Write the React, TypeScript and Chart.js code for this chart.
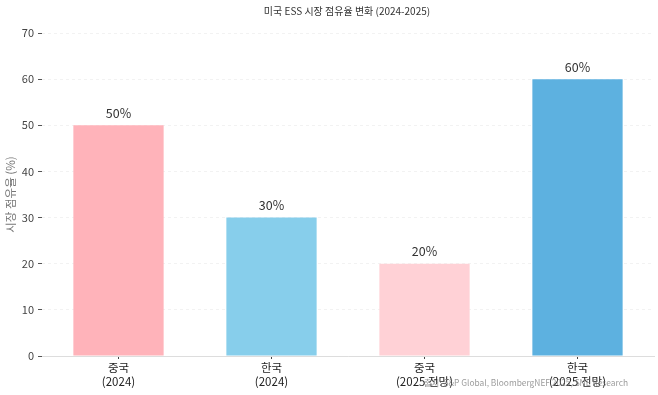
import React, { useEffect, useRef } from "react";
import { Chart, registerables } from "chart.js";

Chart.register(...registerables);

const categories: string[][] = [["중국", "(2024)"], ["한국", "(2024)"], ["중국", "(2025 전망)"], ["한국", "(2025 전망)"]];
const shares: number[] = [50, 30, 20, 60];
const barColors: string[] = ["#ffb3ba", "#87ceeb", "#ffd1d6", "#5db1e0"];
const yTicks: number[] = [0, 10, 20, 30, 40, 50, 60, 70];
const titleText = "미국 ESS 시장 점유율 변화 (2024-2025)";
const yTitle = "시장 점유율 (%)";
const sourceText = "출처: S&P Global, BloombergNEF 2025, SNE Research";

const FONT = "'Noto Sans CJK KR', 'Noto Sans', sans-serif";

const overlayPlugin = {
  id: "overlay",
  afterDatasetsDraw(chart: any) {
    const ctx = chart.ctx;
    const meta = chart.getDatasetMeta(0);
    ctx.save();
    ctx.fillStyle = "#333";
    ctx.font = `12.5px ${FONT}`;
    ctx.textAlign = "center";
    ctx.textBaseline = "middle";
    meta.data.forEach((bar: any, i: number) => {
      ctx.fillText(`${shares[i]}%`, bar.x, bar.y - 12);
    });
    ctx.restore();
  },
  afterDraw(chart: any) {
    const ctx = chart.ctx;
    ctx.save();
    ctx.fillStyle = "#333";
    ctx.font = `10px ${FONT}`;
    ctx.textAlign = "center";
    ctx.textBaseline = "middle";
    ctx.fillText(titleText, 347, 11);
    ctx.fillStyle = "rgba(120,120,120,0.75)";
    ctx.font = `8.4px ${FONT}`;
    ctx.textAlign = "right";
    ctx.fillText(sourceText, 628, 383);
    ctx.restore();
  },
};

export default function App() {
  const ref = useRef<HTMLCanvasElement>(null);
  useEffect(() => {
    if (!ref.current) return;
    const chart = new Chart(ref.current, {
      type: "bar",
      data: {
        labels: categories,
        datasets: [
          {
            data: shares,
            backgroundColor: barColors,
            borderWidth: 0,
            barPercentage: 0.59,
            categoryPercentage: 1,
          },
        ],
      },
      options: {
        animation: false,
        responsive: false,
        maintainAspectRatio: false,
        layout: { padding: { top: 33, right: 4, left: 0, bottom: 0 } },
        plugins: {
          legend: { display: false },
          title: { display: false },
          tooltip: { enabled: false },
        },
        scales: {
          x: {
            grid: { display: true, offset: false, drawOnChartArea: false, drawTicks: true, tickLength: 3, tickColor: "#444" },
            border: { display: true, color: "#dddddd", width: 1 },
            ticks: { color: "#222", font: { family: FONT, size: 11.5, lineHeight: 1.2 }, padding: 2 },
            afterFit: (s: any) => { s.height = 39; },
          },
          y: {
            min: 0,
            max: 70,
            afterBuildTicks: (s: any) => { s.ticks = yTicks.map((v) => ({ value: v })); },
            grid: { color: "rgba(0,0,0,0.05)", drawTicks: true, tickLength: 4, tickColor: "#555" },
            border: { display: false, dash: [3, 3] },
            ticks: { color: "#444", font: { family: FONT, size: 11 }, padding: 4 },
            title: { display: true, text: yTitle, color: "#777", font: { family: FONT, size: 11.5 }, padding: { top: 4, bottom: 0 } },
            afterFit: (s: any) => { s.width = 42; },
          },
        },
      },
      plugins: [overlayPlugin],
    });
    return () => chart.destroy();
  }, []);
  return (
    <div style={{ position: "fixed", left: 0, top: 0, width: 658, height: 395, background: "#fff" }}>
      <canvas ref={ref} width={658} height={395} style={{ width: 658, height: 395 }} />
    </div>
  );
}
